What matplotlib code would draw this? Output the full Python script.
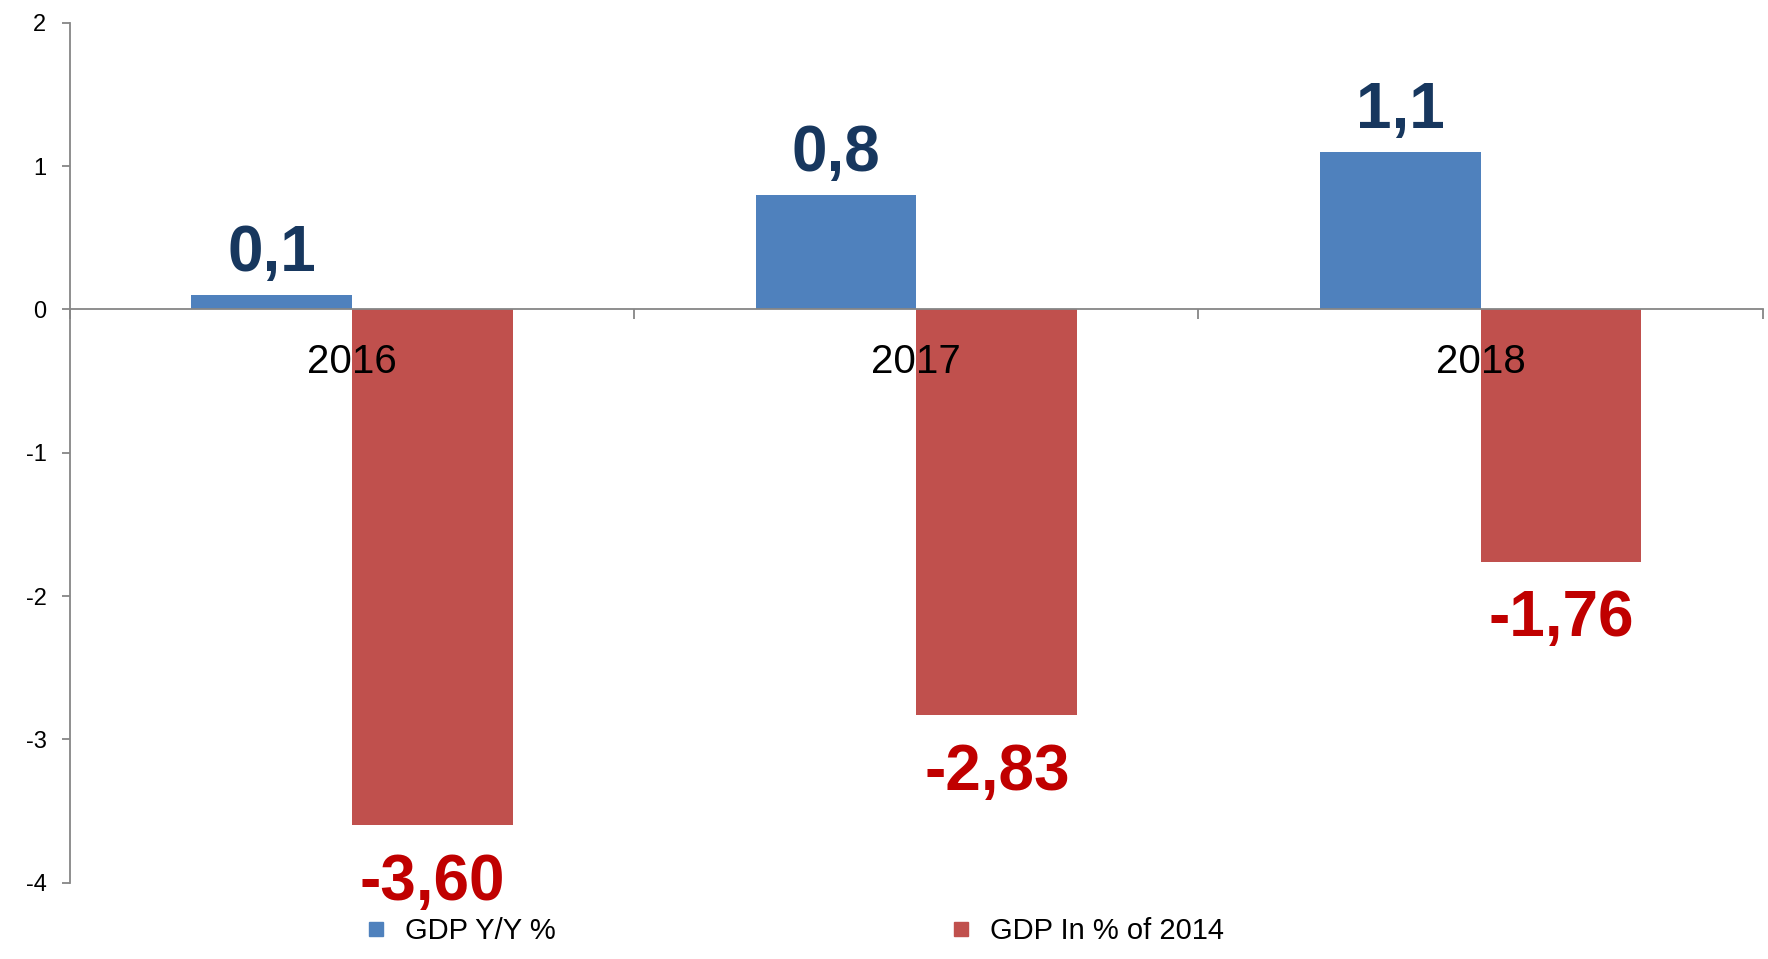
import matplotlib.pyplot as plt
import numpy as np
from matplotlib.lines import Line2D

years = ["2016", "2017", "2018"]
gdp_yoy = [0.1, 0.8, 1.1]
gdp_vs_2014 = [-3.60, -2.83, -1.76]
yoy_labels = ["0,1", "0,8", "1,1"]
vs_2014_labels = ["-3,60", "-2,83", "-1,76"]
series_names = ["GDP Y/Y %", "GDP In % of 2014"]

BLUE = "#4F81BD"
RED = "#C0504D"
GRAY = "#868686"

plt.rcParams["font.family"] = ["Liberation Sans", "DejaVu Sans"]

fig = plt.figure(figsize=(17.68, 9.59), dpi=100)
ax = fig.add_axes([0.0396, 0.0796, 0.9574, 0.8967])

x = np.arange(len(years))
width = 0.285
bars_yoy = ax.bar(x - width / 2, gdp_yoy, width, color=BLUE, zorder=1)
bars_2014 = ax.bar(x + width / 2, gdp_vs_2014, width, color=RED, zorder=1)

for bar, label in zip(bars_yoy, yoy_labels):
    ax.annotate(label, (bar.get_x() + bar.get_width() / 2, bar.get_height()),
                xytext=(0, 17), textcoords="offset points", ha="center", va="baseline",
                fontsize=46, fontweight="bold", color="#17375E")

for bar, label in zip(bars_2014, vs_2014_labels):
    ax.annotate(label, (bar.get_x() + bar.get_width() / 2, bar.get_height()),
                xytext=(0, -20), textcoords="offset points", ha="center", va="top",
                fontsize=46, fontweight="bold", color="#C00000")

ax.set_xlim(-0.5, 2.5)
ax.set_ylim(-4, 2)
ax.set_yticks([-4, -3, -2, -1, 0, 1, 2])
ax.set_yticklabels(["-4", "-3", "-2", "-1", "0", "1", "2"])
ax.set_xticks(x)
ax.set_xticklabels(years)
ax.set_xticks([-0.5, 0.5, 1.5, 2.5], minor=True)
ax.set_axisbelow(False)

for side in ["top", "right"]:
    ax.spines[side].set_visible(False)
ax.spines["bottom"].set_position(("data", 0))
for side in ["left", "bottom"]:
    ax.spines[side].set_color(GRAY)
    ax.spines[side].set_linewidth(1.3)

ax.tick_params(axis="y", direction="out", length=6, width=1.3, color=GRAY, pad=11,
               labelsize=17)
ax.tick_params(axis="x", which="major", length=0, pad=24, labelsize=29)
ax.tick_params(axis="x", which="minor", direction="out", length=7, width=1.3, color=GRAY)

handles = [
    Line2D([], [], marker="s", linestyle="none", markersize=10, color=BLUE),
    Line2D([], [], marker="s", linestyle="none", markersize=10, color=RED),
]
fig.legend(handles, series_names, loc="center", bbox_to_anchor=(0.45, 0.029), ncol=2,
           frameon=False, fontsize=21, handlelength=0.6, handletextpad=0.7,
           columnspacing=13.6)

fig.savefig("out.png", dpi=100)
